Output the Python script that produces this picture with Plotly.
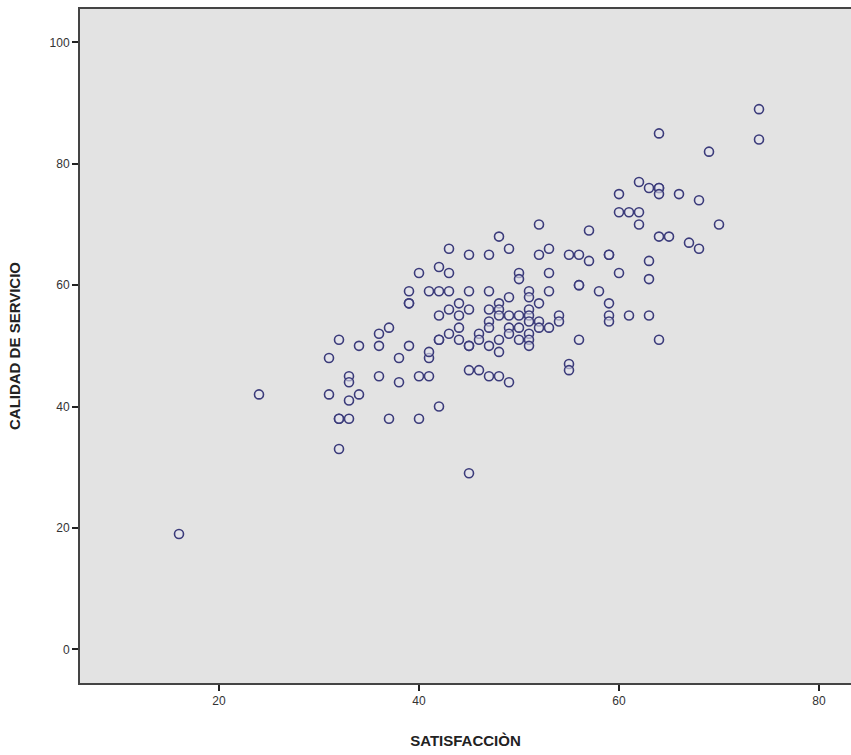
import plotly.graph_objects as go

# SATISFACCIÒN (x) and CALIDAD DE SERVICIO (y) values
satisfaccion = [
    16, 24, 31, 31, 32, 32, 32, 32, 33, 33, 33, 33, 34, 34, 36, 36, 36, 37, 37,
    38, 38, 39, 39, 39, 39, 40, 40, 40, 41, 41, 41, 41, 42, 42, 42, 42, 42, 43, 43,
    43, 43, 43, 44, 44, 44, 44, 45, 45, 45, 45, 45, 45, 46, 46, 46, 47, 47, 47, 47,
    47, 47, 47, 48, 48, 48, 48, 48, 48, 48, 49, 49, 49, 49, 49, 49, 50, 50, 50, 50,
    50, 51, 51, 51, 51, 51, 51, 51, 51, 52, 52, 52, 52, 52, 53, 53, 53, 53, 54, 54,
    55, 55, 55, 56, 56, 56, 56, 57, 57, 58, 59, 59, 59, 59, 59, 60, 60, 60, 61, 61,
    62, 62, 62, 63, 63, 63, 63, 64, 64, 64, 64, 64, 64, 65, 66, 67, 68, 68, 69, 70,
    74, 74, 45, 42,
]
calidad_servicio = [
    19, 42, 42, 48, 51, 38, 38, 33, 45, 44, 41, 38, 42, 50, 45, 50, 52, 53, 38,
    44, 48, 57, 57, 59, 50, 62, 45, 38, 59, 45, 48, 49, 63, 59, 55, 51, 40, 66, 62,
    59, 56, 52, 57, 55, 53, 51, 65, 59, 56, 50, 46, 29, 46, 52, 51, 65, 59, 56, 54,
    53, 50, 45, 68, 57, 56, 55, 51, 49, 45, 66, 58, 55, 53, 52, 44, 62, 61, 55, 53,
    51, 59, 58, 56, 55, 54, 52, 51, 50, 70, 65, 57, 54, 53, 66, 62, 59, 53, 55, 54,
    65, 47, 46, 65, 60, 60, 51, 69, 64, 59, 65, 65, 57, 55, 54, 75, 72, 62, 72, 55,
    77, 72, 70, 76, 64, 61, 55, 85, 76, 76, 75, 68, 51, 68, 75, 67, 74, 66, 82, 70,
    89, 84, 50, 51,
]

x_ticks = [20, 40, 60, 80]
y_ticks = [0, 20, 40, 60, 80, 100]

fig = go.Figure(
    go.Scatter(
        x=satisfaccion,
        y=calidad_servicio,
        mode="markers",
        marker=dict(
            symbol="circle",
            size=9,
            color="rgba(226,226,236,0.6)",
            line=dict(color="#3b3b7a", width=1.6),
        ),
        hoverinfo="x+y",
    )
)

fig.update_layout(
    width=851,
    height=755,
    margin=dict(l=80, r=0, t=9, b=72),
    paper_bgcolor="white",
    plot_bgcolor="#e3e3e3",
    showlegend=False,
    font=dict(family="Liberation Sans, Arial, sans-serif", size=12, color="#333333"),
)

fig.update_xaxes(
    range=[6.1, 83.2],
    tickvals=x_ticks,
    ticks="outside",
    ticklen=6,
    tickwidth=1.5,
    tickcolor="#222222",
    showgrid=False,
    zeroline=False,
    showline=True,
    linecolor="#444444",
    linewidth=2,
    mirror=True,
    title=dict(
        text="<b>SATISFACCIÒN</b>",
        font=dict(size=15, color="#222222"),
        standoff=28,
    ),
)

fig.update_yaxes(
    range=[-5.55, 105.5],
    tickvals=y_ticks,
    ticks="outside",
    ticklen=6,
    tickwidth=1.5,
    tickcolor="#222222",
    showgrid=False,
    zeroline=False,
    showline=True,
    linecolor="#444444",
    linewidth=2,
    mirror=False,
    title=dict(
        text="<b>CALIDAD DE SERVICIO</b>",
        font=dict(size=15, color="#222222"),
        standoff=25,
    ),
)

fig.write_html(
    "out.html",
    config={"displayModeBar": False},
    post_script="document.body.style.margin='0px';document.body.style.overflow='hidden';",
)
